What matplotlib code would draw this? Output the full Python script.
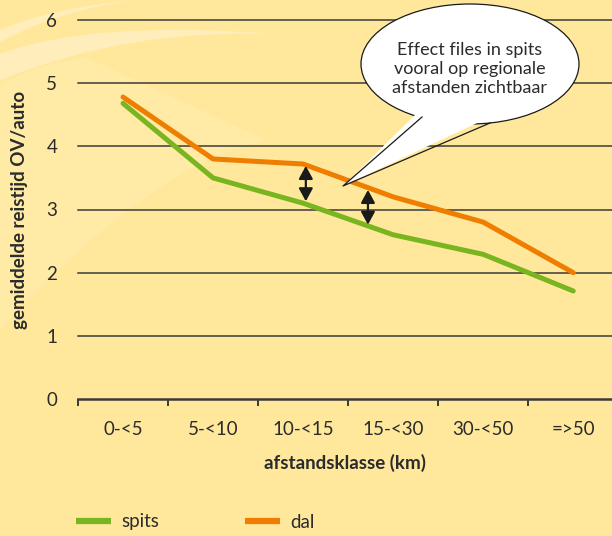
import matplotlib
matplotlib.use("Agg")
import matplotlib.pyplot as plt
from matplotlib.patches import Ellipse, Polygon, PathPatch
from matplotlib.path import Path

plt.rcParams['font.family'] = ['Lato', 'DejaVu Sans']

# data
klassen = ['0-<5', '5-<10', '10-<15', '15-<30', '30-<50', '=>50']
spits = [4.68, 3.50, 3.10, 2.60, 2.29, 1.71]
dal = [4.78, 3.80, 3.72, 3.20, 2.80, 2.00]
y_ticks = [0, 1, 2, 3, 4, 5, 6]

bg = '#ffe89c'
green = '#78b51f'
orange = '#ee7d00'
grid_col = '#3a3a3a'
text_col = '#2b2b2b'

W, H = 612, 536
fig = plt.figure(figsize=(W / 100, H / 100), dpi=100)
fig.patch.set_facecolor(bg)

# decorative light swooshes in the background (pixel coords)
deco = fig.add_axes([0, 0, 1, 1], zorder=0)
deco.set_xlim(0, W)
deco.set_ylim(H, 0)
deco.axis('off')

def swoosh(verts, codes, color):
    deco.add_patch(PathPatch(Path(verts, codes), facecolor=color, edgecolor='none'))

C3, L, M, CL = Path.CURVE3, Path.LINETO, Path.MOVETO, Path.CLOSEPOLY
swoosh([(0, 85), (40, 62), (87, 58), (267, 140), (150, 165), (0, 330), (0, 85)],
       [M, C3, C3, L, C3, C3, CL], '#ffeaa6')
swoosh([(0, 54), (90, 20), (275, 34), (130, 28), (0, 80), (0, 54)],
       [M, C3, C3, C3, C3, CL], '#ffeebb')
swoosh([(0, 30), (50, 8), (135, 0), (60, 10), (0, 42), (0, 30)],
       [M, C3, C3, C3, C3, CL], '#ffeebb')

# main chart
ax = fig.add_axes([78 / W, (H - 399) / H, (W - 78) / W, (399 - 20) / H], zorder=2)
ax.set_facecolor('none')
x = list(range(len(klassen)))

for yv in y_ticks[1:]:
    ax.axhline(yv, color=grid_col, lw=1.1, zorder=1, clip_on=False)
ax.axhline(0, color=grid_col, lw=1.8, zorder=1, clip_on=False)

ax.plot(x, spits, color=green, lw=3.6, solid_capstyle='round', solid_joinstyle='round', zorder=3)
ax.plot(x, dal, color=orange, lw=3.6, solid_capstyle='round', solid_joinstyle='round', zorder=3)

# double arrows showing the peak effect
arrow_kw = dict(arrowstyle='<|-|>,head_width=0.3,head_length=0.55', color='#1a1a1a', lw=1.6,
                mutation_scale=14, shrinkA=0, shrinkB=0)
ax.annotate('', xy=(2.03, 3.69), xytext=(2.03, 3.13), arrowprops=arrow_kw, zorder=4)
ax.annotate('', xy=(2.72, 3.31), xytext=(2.72, 2.76), arrowprops=arrow_kw, zorder=4)

ax.set_xlim(-0.5, 5.43)
ax.set_ylim(0, 6)
ax.set_xticks(x)
ax.set_xticklabels(klassen)
ax.set_xticks([i - 0.5 for i in range(len(klassen))], minor=True)
ax.set_yticks(y_ticks)
ax.tick_params(axis='x', which='major', length=0, pad=16, labelsize=13.5, colors=text_col)
ax.tick_params(axis='x', which='minor', length=5, width=1.4, color=grid_col, direction='out')
ax.tick_params(axis='y', length=0, pad=15, labelsize=13.5, colors=text_col)
for s in ax.spines.values():
    s.set_visible(False)

ax.set_xlabel('afstandsklasse (km)', fontsize=13.5, fontweight='bold', color=text_col, labelpad=11)
ax.set_ylabel('gemiddelde reistijd OV/auto', fontsize=13.5, fontweight='bold', color=text_col, labelpad=13)

# legend
handles = [plt.Line2D([0], [0], color=green, lw=4.5, solid_capstyle='butt'),
           plt.Line2D([0], [0], color=orange, lw=4.5, solid_capstyle='butt')]
fig.legend(handles, ['spits', 'dal'], loc='center left', bbox_to_anchor=(76 / W, 1 - 522 / H),
           ncol=2, frameon=False, fontsize=13.5, handlelength=1.85, handletextpad=0.55,
           columnspacing=4.6, borderpad=0, borderaxespad=0, labelcolor=text_col)

# speech bubble (pixel coords)
ov = fig.add_axes([0, 0, 1, 1], zorder=5)
ov.set_xlim(0, W)
ov.set_ylim(H, 0)
ov.axis('off')
ov.add_patch(Ellipse((470, 64), 218, 120, facecolor='white', edgecolor='#1a1a1a', lw=0.9))
ov.add_patch(Polygon([(420, 110), (343, 186), (492, 116)], closed=True, facecolor='white', edgecolor='none'))
ov.plot([422, 343, 490], [117, 186, 123], color='#1a1a1a', lw=0.9)
ov.text(470, 69, 'Effect files in spits\nvooral op regionale\nafstanden zichtbaar', ha='center', va='center',
        fontsize=13, color=text_col, linespacing=1.2)

fig.savefig('out.png', dpi=100, facecolor=bg)
